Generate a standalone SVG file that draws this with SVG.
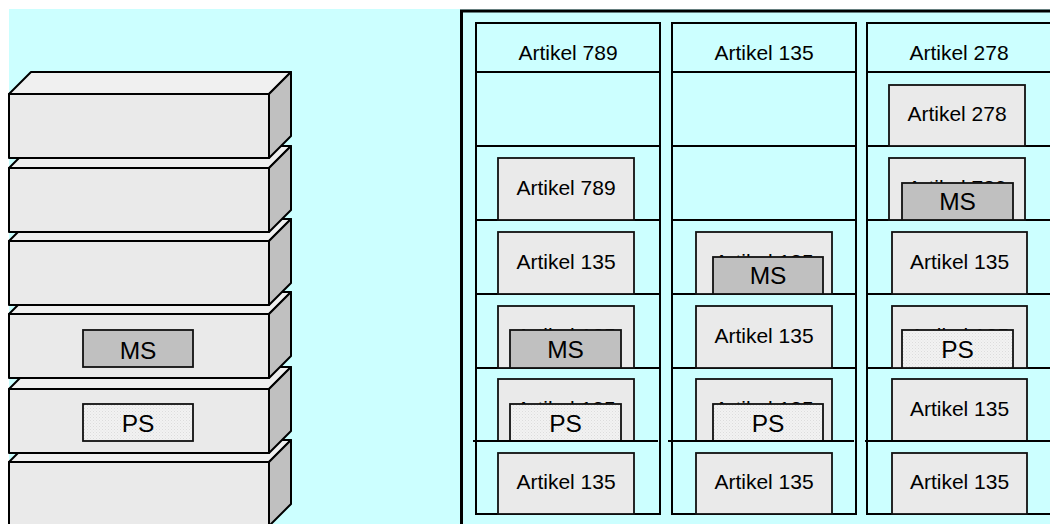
<svg xmlns="http://www.w3.org/2000/svg" width="1050" height="524" viewBox="0 0 1050 524">
  <defs>
    <!-- fine stipple used for the PS tiles -->
    <pattern id="stipple" width="3" height="3" patternUnits="userSpaceOnUse">
      <rect width="3" height="3" fill="#F2F2F2"/>
      <rect x="0" y="0" width="1" height="1" fill="#DCDCDC"/>
      <rect x="1.5" y="1.5" width="1" height="1" fill="#E2E2E2"/>
    </pattern>
    <style>
      .bg { fill: #CCFFFF; }
      .front { fill: #EAEAEA; stroke: #000; stroke-width: 2; stroke-linejoin: round; }
      .top { fill: #F0F0F0; stroke: #000; stroke-width: 2; stroke-linejoin: round; }
      .side { fill: #C0C0C0; stroke: #000; stroke-width: 2; stroke-linejoin: round; }
      .frame { fill: none; stroke: #000; stroke-width: 3; }
      .col { fill: none; stroke: #000; stroke-width: 2; }
      .rule { stroke: #000; stroke-width: 2; }
      .item { fill: #EAEAEA; stroke: #111; stroke-width: 1.8; }
      .ms { fill: #C0C0C0; stroke: #111; stroke-width: 1.8; }
      .ps { fill: url(#stipple); stroke: #111; stroke-width: 1.8; }
      .lbl { font-family: "Liberation Sans", Arial, sans-serif; font-size: 21px; fill: #000; text-anchor: middle; }
      .tag { font-family: "Liberation Sans", Arial, sans-serif; font-size: 24.5px; fill: #000; text-anchor: middle; }
    </style>
  </defs>

  <rect class="bg" x="9" y="9" width="1041" height="515"/>

  <!-- stack of shelf blocks, drawn bottom-up so upper blocks overlap lower ones -->
  <g id="stack">
    <g id="block6">
      <polygon class="top" points="9,462 31,440 291,440 269,462"/>
      <polygon class="side" points="269,462 291,440 291,504 269,526"/>
      <rect class="front" x="9" y="462" width="260" height="64"/>
    </g>
    <g id="block5">
      <polygon class="top" points="9,389 31,367 291,367 269,389"/>
      <polygon class="side" points="269,389 291,367 291,431 269,453"/>
      <rect class="front" x="9" y="389" width="260" height="64"/>
      <rect class="ps" x="83" y="404" width="110" height="37"/>
      <text class="tag" x="138" y="432">PS</text>
    </g>
    <g id="block4">
      <polygon class="top" points="9,314 31,292 291,292 269,314"/>
      <polygon class="side" points="269,314 291,292 291,356 269,378"/>
      <rect class="front" x="9" y="314" width="260" height="64"/>
      <rect class="ms" x="83" y="330" width="110" height="37"/>
      <text class="tag" x="138" y="359">MS</text>
    </g>
    <g id="block3">
      <polygon class="top" points="9,241 31,219 291,219 269,241"/>
      <polygon class="side" points="269,241 291,219 291,283 269,305"/>
      <rect class="front" x="9" y="241" width="260" height="64"/>
    </g>
    <g id="block2">
      <polygon class="top" points="9,168 31,146 291,146 269,168"/>
      <polygon class="side" points="269,168 291,146 291,210 269,232"/>
      <rect class="front" x="9" y="168" width="260" height="64"/>
    </g>
    <g id="block1">
      <polygon class="top" points="9,94 31,72 291,72 269,94"/>
      <polygon class="side" points="269,94 291,72 291,136 269,158"/>
      <rect class="front" x="9" y="94" width="260" height="64"/>
    </g>
  </g>

  <!-- shelf frame -->
  <path class="frame" d="M461.5,524 V11 H1050"/>

  <!-- column 1 -->
  <g id="col-789">
    <rect class="col" x="476" y="23" width="184" height="491"/>
    <line class="rule" x1="476" y1="72" x2="660" y2="72"/>
    <line class="rule" x1="476" y1="146" x2="660" y2="146"/>
    <line class="rule" x1="476" y1="220" x2="660" y2="220"/>
    <line class="rule" x1="476" y1="294" x2="660" y2="294"/>
    <line class="rule" x1="476" y1="368" x2="660" y2="368"/>
    <text class="lbl" x="568" y="60">Artikel 789</text>
  </g>
  <g id="c1-r3"><rect class="item" x="498" y="158" width="136" height="62"/><text class="lbl" x="566" y="195">Artikel 789</text></g>
  <g id="c1-r4"><rect class="item" x="498" y="232" width="136" height="62"/><text class="lbl" x="566" y="269">Artikel 135</text></g>
  <g id="c1-r5"><rect class="item" x="498" y="306" width="136" height="62"/><text class="lbl" x="566" y="343">Artikel 135</text>
    <rect class="ms" x="510" y="330" width="111" height="38"/><text class="tag" x="565.5" y="358">MS</text></g>
  <g id="c1-r6"><rect class="item" x="498" y="379" width="136" height="62"/><text class="lbl" x="566" y="416">Artikel 135</text>
    <rect class="ps" x="510" y="404" width="111" height="37"/><text class="tag" x="565.5" y="432">PS</text></g>
  <g id="c1-r7"><rect class="item" x="498" y="453" width="136" height="61"/><text class="lbl" x="566" y="489">Artikel 135</text></g>
  <line class="rule" x1="473" y1="441" x2="658" y2="441"/>

  <!-- column 2 -->
  <g id="col-135">
    <rect class="col" x="672" y="23" width="184" height="491"/>
    <line class="rule" x1="672" y1="72" x2="856" y2="72"/>
    <line class="rule" x1="672" y1="146" x2="856" y2="146"/>
    <line class="rule" x1="672" y1="220" x2="856" y2="220"/>
    <line class="rule" x1="672" y1="294" x2="856" y2="294"/>
    <line class="rule" x1="672" y1="368" x2="856" y2="368"/>
    <text class="lbl" x="764" y="60">Artikel 135</text>
  </g>
  <g id="c2-r4"><rect class="item" x="696" y="232" width="136" height="62"/><text class="lbl" x="764" y="269">Artikel 135</text>
    <rect class="ms" x="713" y="257" width="110" height="37"/><text class="tag" x="768" y="284">MS</text></g>
  <g id="c2-r5"><rect class="item" x="696" y="306" width="136" height="62"/><text class="lbl" x="764" y="343">Artikel 135</text></g>
  <g id="c2-r6"><rect class="item" x="696" y="379" width="136" height="62"/><text class="lbl" x="764" y="416">Artikel 135</text>
    <rect class="ps" x="713" y="404" width="110" height="37"/><text class="tag" x="768" y="432">PS</text></g>
  <g id="c2-r7"><rect class="item" x="696" y="453" width="136" height="61"/><text class="lbl" x="764" y="489">Artikel 135</text></g>
  <line class="rule" x1="668" y1="441" x2="854" y2="441"/>

  <!-- column 3 -->
  <g id="col-278">
    <rect class="col" x="867" y="23" width="184" height="491"/>
    <line class="rule" x1="867" y1="72" x2="1051" y2="72"/>
    <line class="rule" x1="867" y1="146" x2="1051" y2="146"/>
    <line class="rule" x1="867" y1="220" x2="1051" y2="220"/>
    <line class="rule" x1="867" y1="294" x2="1051" y2="294"/>
    <line class="rule" x1="867" y1="368" x2="1051" y2="368"/>
    <text class="lbl" x="959" y="60">Artikel 278</text>
  </g>
  <g id="c3-r2"><rect class="item" x="889" y="85" width="136" height="61"/><text class="lbl" x="957" y="121">Artikel 278</text></g>
  <g id="c3-r3"><rect class="item" x="889" y="158" width="136" height="62"/><text class="lbl" x="957" y="195">Artikel 789</text>
    <rect class="ms" x="902" y="183" width="111" height="37"/><text class="tag" x="957.5" y="210">MS</text></g>
  <g id="c3-r4"><rect class="item" x="892" y="232" width="135" height="62"/><text class="lbl" x="959.5" y="269">Artikel 135</text></g>
  <g id="c3-r5"><rect class="item" x="892" y="306" width="135" height="62"/><text class="lbl" x="959.5" y="343">Artikel 135</text>
    <rect class="ps" x="902" y="330" width="111" height="38"/><text class="tag" x="957.5" y="358">PS</text></g>
  <g id="c3-r6"><rect class="item" x="892" y="379" width="135" height="62"/><text class="lbl" x="959.5" y="416">Artikel 135</text></g>
  <g id="c3-r7"><rect class="item" x="892" y="453" width="135" height="61"/><text class="lbl" x="959.5" y="489">Artikel 135</text></g>
  <line class="rule" x1="865" y1="441" x2="1050" y2="441"/>

  <g id="connectors"/>
</svg>
